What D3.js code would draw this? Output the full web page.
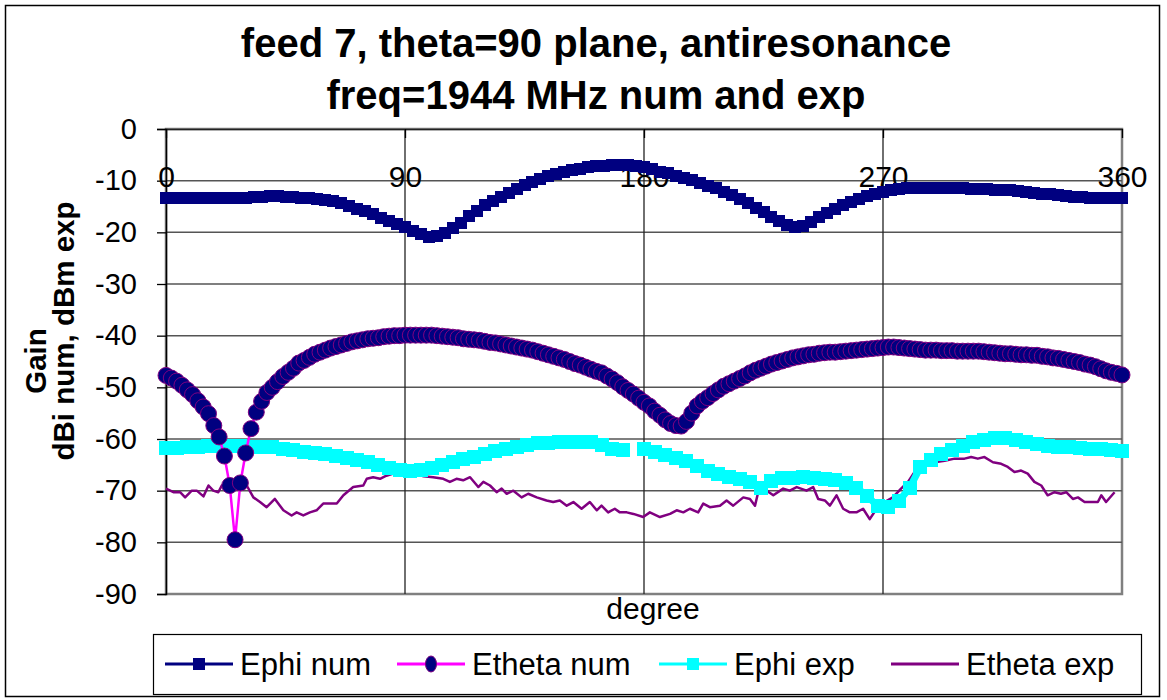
<!DOCTYPE html>
<html>
<head>
<meta charset="utf-8">
<script src="https://cdn.jsdelivr.net/npm/d3@7"></script>
<style>
  html, body { margin: 0; padding: 0; background: #fff; }
  svg { display: block; font-family: "Liberation Sans", Arial, sans-serif; }
</style>
</head>
<body>
<svg id="chart" width="1167" height="700"></svg>
<script>
// ---------------- data ----------------
const titleLines = ["feed 7, theta=90 plane, antiresonance", "freq=1944 MHz num and exp"];
const xLabel = "degree";
const yLabelLines = ["Gain", "dBi num, dBm exp"];
const xTicks = [0, 90, 180, 270, 360];
const yTicks = [0, -10, -20, -30, -40, -50, -60, -70, -80, -90];
const seriesNames = ["Ephi num", "Etheta num", "Ephi exp", "Etheta exp"];

// Ephi num, every 3 degrees from 0 to 360
const ephiNumStep = 3;
const ephiNum = [
  -13.3, -13.3, -13.3, -13.3, -13.3, -13.3, -13.3, -13.3, -13.3, -13.3,
  -13.3, -13.2, -13.1, -13.0, -13.0, -13.1, -13.2, -13.3, -13.4, -13.5,
  -13.8, -14.0, -14.4, -14.9, -15.4, -15.9, -16.5, -17.2, -17.8, -18.4,
  -19.0, -19.7, -20.4, -20.9, -20.7, -20.1, -19.2, -18.1, -16.8, -15.8,
  -14.8, -14.0, -13.2, -12.4, -11.6, -10.8, -10.2, -9.6, -9.1, -8.7,
  -8.3, -8.0, -7.7, -7.4, -7.2, -7.1, -7.0, -7.0, -7.0, -7.2,
  -7.4, -7.8, -8.3, -8.6, -9.0, -9.5, -9.9, -10.4, -11.0, -11.5,
  -12.1, -12.8, -13.6, -14.4, -15.2, -16.1, -17.0, -17.9, -18.5, -18.9,
  -18.8, -18.0, -17.1, -16.3, -15.5, -14.8, -14.1, -13.5, -13.0, -12.5,
  -12.2, -11.9, -11.7, -11.5, -11.4, -11.4, -11.4, -11.4, -11.4, -11.5,
  -11.5, -11.6, -11.6, -11.7, -11.8, -11.9, -11.9, -12.0, -12.2, -12.3,
  -12.5, -12.6, -12.8, -13.0, -13.1, -13.2, -13.3, -13.3, -13.3, -13.3,
  -13.3
];

// Etheta num, every 2 degrees from 0 to 360
const ethetaNumStep = 2;
const ethetaNum = [
  -47.7, -48.2, -48.8, -49.6, -50.5, -51.4, -52.6, -53.8, -55.1, -57.4,
  -59.6, -63.3, -69.0, -79.5, -68.5, -62.7, -58.0, -54.8, -52.7, -51.0,
  -50.0, -48.9, -47.9, -47.1, -46.3, -45.3, -44.8, -44.2, -43.6, -43.2,
  -42.8, -42.4, -42.1, -41.8, -41.5, -41.2, -41.0, -40.8, -40.6, -40.5,
  -40.4, -40.2, -40.1, -40.0, -40.0, -39.9, -39.9, -39.9, -39.9, -39.9,
  -39.9, -40.0, -40.1, -40.2, -40.3, -40.4, -40.6, -40.7, -40.8, -40.9,
  -41.1, -41.3, -41.4, -41.6, -41.8, -42.0, -42.2, -42.4, -42.6, -42.8,
  -43.1, -43.4, -43.7, -44.0, -44.3, -44.6, -45.0, -45.4, -45.7, -46.1,
  -46.5, -46.9, -47.2, -47.8, -48.4, -49.1, -49.9, -50.6, -51.3, -52.1,
  -52.9, -53.6, -54.6, -55.4, -56.3, -57.0, -57.4, -57.5, -56.6, -55.0,
  -53.6, -52.7, -52.0, -51.2, -50.5, -49.8, -49.3, -48.8, -48.3, -47.8,
  -47.2, -46.7, -46.3, -45.9, -45.5, -45.2, -44.9, -44.6, -44.3, -44.1,
  -43.9, -43.7, -43.6, -43.4, -43.3, -43.2, -43.2, -43.1, -43.0, -42.9,
  -42.8, -42.7, -42.6, -42.5, -42.4, -42.3, -42.2, -42.2, -42.3, -42.4,
  -42.5, -42.6, -42.7, -42.8, -42.8, -42.8, -42.9, -42.9, -42.9, -43.0,
  -43.0, -43.0, -43.0, -43.0, -43.1, -43.2, -43.3, -43.4, -43.5, -43.5,
  -43.6, -43.7, -43.7, -43.8, -43.8, -44.0, -44.1, -44.3, -44.4, -44.6,
  -44.8, -45.0, -45.2, -45.5, -45.7, -46.0, -46.4, -46.8, -47.1, -47.3,
  -47.6
];

// Ephi exp, every 4 degrees from 0 to 360 (null = missing sample)
const ephiExpStep = 4;
const ephiExp = [
  -61.7, -61.7, -61.6, -61.5, -61.4, -61.4, -61.3, -61.4, -61.5, -61.5,
  -61.6, -61.9, -62.2, -62.5, -62.7, -63.0, -63.3, -63.6, -64.0, -64.5,
  -65.1, -65.6, -66.0, -66.2, -66.0, -65.6, -65.1, -64.5, -63.9, -63.4,
  -62.9, -62.4, -62.0, -61.5, -61.1, -60.8, -60.7, -60.6, -60.6, -60.5,
  -60.6, -61.2, -61.9, -62.2, null, -62.0, -62.6, -63.1, -63.6, -64.3,
  -65.2, -66.1, -66.7, -67.3, -67.8, -68.4, -69.5, -68.2, -67.6, -67.5,
  -67.4, -67.5, -67.7, -68.0, -68.5, -69.4, -71.0, -73.0, -73.2, -72.0,
  -69.5, -65.5, -64.0, -63.0, -62.1, -61.4, -60.6, -60.2, -59.9, -59.8,
  -60.1, -60.6, -60.9, -61.3, -61.5, -61.6, -61.7, -61.9, -62.0, -62.1,
  -62.3
];

// Etheta exp, measured angles and values
const ethetaExpDeg = [
  0, 2.8, 5.3, 7.2, 9.7, 11.6, 14.1, 16, 17.8, 19.7, 21, 24, 27.9, 30.4, 32.9, 35.4, 37.9, 41,
  44.2, 47.3, 49.2, 51.7, 54.2, 56.7, 59.2, 64.3, 66.8, 70.5, 74.3, 75.6, 78, 80.6, 83, 85.6,
  88.1, 91, 94, 97, 100.6, 104.4, 106.9, 109.4, 111.9, 114.5, 117.6, 119.5, 122, 124.5, 126.4,
  128.3, 130.8, 133.9, 136.4, 139.6, 143.3, 145.8, 148.3, 150.9, 153.4, 156.5, 159.6, 162.2,
  164, 166.5, 169, 170.9, 173.5, 176, 179.7, 182.2, 186, 189.8, 192.3, 194.8, 197.3, 200.4,
  202.3, 204.8, 208.6, 211.1, 213.6, 217.4, 219.9, 221.8, 223, 226.2, 228.7, 232.4, 234.9,
  237.5, 241.2, 243.7, 245.6, 248.1, 250, 252.5, 255, 257.5, 260, 262.5, 265, 267.6, 270.6,
  273.7, 276.8, 279.4, 281.9, 285.6, 289.4, 293.2, 297, 300.7, 303.2, 305.7, 308.2, 311.4,
  314.5, 317, 319.5, 322, 324.5, 327, 329.6, 332, 334.6, 337, 339, 341.5, 343.4, 345.9,
  350.9, 352.2, 354, 357.2
];
const ethetaExp = [
  -69.6, -70.3, -70.3, -71.3, -70.0, -70.0, -71.1, -69.0, -70.0, -70.3, -69.0, -69.5, -69.6, -69.0, -71.3, -72.2, -73.2, -71.6,
  -73.8, -74.8, -74.2, -74.8, -74.2, -73.8, -72.5, -72.5, -70.9, -69.3, -69.0, -67.7, -67.4, -67.7, -67.1, -66.7,
  -67.1, -67.0, -66.8, -67.2, -67.4, -67.7, -68.3, -67.7, -68.0, -67.4, -69.3, -68.3, -69.0, -70.3, -69.6,
  -70.6, -70.0, -71.3, -70.6, -71.3, -71.9, -72.2, -71.9, -72.9, -72.2, -73.5, -72.2, -73.8,
  -72.9, -74.2, -73.5, -74.2, -74.2, -74.5, -75.1, -74.2, -75.1, -74.5, -73.8, -74.2, -73.5, -74.2,
  -72.5, -73.2, -72.9, -71.9, -72.9, -71.3, -71.6, -72.9, -70.3, -70.0, -70.9, -69.6, -70.0,
  -69.3, -70.0, -69.3, -71.6, -71.9, -72.9, -70.9, -73.5, -74.2, -74.2, -73.5, -75.5, -73.5, -72.2,
  -71.3, -69.6, -68.3, -66.4, -65.4, -64.5, -64.2, -63.8, -63.8, -63.5, -63.8, -63.5, -64.5,
  -64.8, -65.4, -66.4, -66.1, -66.7, -68.3, -69.0, -70.9, -70.3, -70.6, -70.3, -71.6, -71.3, -72.2,
  -72.2, -70.9, -72.2, -70.3
];

// ---------------- chart ----------------
const svg = d3.select("#chart");
const plot = { left: 166, right: 1122, top: 129, bottom: 594 };

const x = d3.scaleLinear().domain([0, 360]).range([plot.left, plot.right]);
const y = d3.scaleLinear().domain([-90, 0]).range([plot.bottom, plot.top]);

const colors = {
  ephiNum: "#000080",
  ethetaNumLine: "#FF00FF",
  ethetaNumFill: "#000080",
  ethetaNumStroke: "#800080",
  ephiExp: "#00FFFF",
  ethetaExp: "#800080"
};
const fmt = d => String(d);

// outer chart border
svg.append("rect").attr("x", 5.5).attr("y", 5.5).attr("width", 1154).attr("height", 691)
  .attr("fill", "#fff").attr("stroke", "#000").attr("stroke-width", 1.5);

// titles
svg.append("g").selectAll("text").data(titleLines).join("text")
  .attr("x", 596).attr("y", (d, i) => 57 + i * 52)
  .attr("text-anchor", "middle").attr("font-weight", "bold").attr("font-size", 40)
  .text(d => d);

// plot area background & border
svg.append("rect").attr("x", plot.left).attr("y", plot.top)
  .attr("width", plot.right - plot.left).attr("height", plot.bottom - plot.top)
  .attr("fill", "#fff").attr("stroke", "#808080").attr("stroke-width", 2.5);

// horizontal gridlines
svg.append("g").selectAll("line").data(yTicks.filter(v => v !== 0 && v !== -90)).join("line")
  .attr("x1", plot.left).attr("x2", plot.right)
  .attr("y1", d => y(d)).attr("y2", d => y(d))
  .attr("stroke", "#555").attr("stroke-width", 1.5);

// vertical gridlines
svg.append("g").selectAll("line").data(xTicks.filter(v => v !== 0 && v !== 360)).join("line")
  .attr("x1", d => x(d)).attr("x2", d => x(d))
  .attr("y1", plot.top).attr("y2", plot.bottom)
  .attr("stroke", "#222").attr("stroke-width", 1.3);

// Y axis
const yAxis = svg.append("g").attr("transform", `translate(${plot.left},0)`)
  .call(d3.axisLeft(y).tickValues(yTicks).tickSize(9).tickPadding(20).tickFormat(fmt));
yAxis.select(".domain").attr("stroke", "#000").attr("stroke-width", 1.5);
yAxis.selectAll(".tick line").attr("stroke", "#000").attr("stroke-width", 1.3);
yAxis.selectAll("text").attr("font-size", 29).attr("fill", "#000")
  .attr("font-family", "Liberation Sans, Arial, sans-serif");

// X axis at top (value 0), labels drawn below
const xAxis = svg.append("g").attr("transform", `translate(0,${plot.top})`)
  .call(d3.axisBottom(x).tickValues(xTicks).tickSizeInner(9).tickSizeOuter(0).tickPadding(28).tickFormat(fmt));
xAxis.select(".domain").attr("stroke", "#222").attr("stroke-width", 1.5);
xAxis.selectAll(".tick line").attr("stroke", "#000").attr("stroke-width", 1.3);
xAxis.selectAll("text").attr("font-size", 30).attr("fill", "#000")
  .attr("font-family", "Liberation Sans, Arial, sans-serif");

// axis titles
svg.append("text").attr("x", 653).attr("y", 619).attr("text-anchor", "middle")
  .attr("font-size", 30).text(xLabel);

svg.append("g").selectAll("text").data(yLabelLines).join("text")
  .attr("transform", (d, i) => `translate(${46 + i * 28},${i === 0 ? 361 : 331}) rotate(-90)`)
  .attr("text-anchor", "middle").attr("font-weight", "bold").attr("font-size", 29.5)
  .text(d => d);

// build point sets
const ephiNumPts = ephiNum.map((v, i) => ({ d: i * ephiNumStep, v }));
const ethetaNumPts = ethetaNum.map((v, i) => ({ d: i * ethetaNumStep, v }));
const ephiExpPts = ephiExp.map((v, i) => ({ d: i * ephiExpStep, v }));
const ethetaExpPts = ethetaExp.map((v, i) => ({ d: ethetaExpDeg[i], v }));

const line = d3.line().defined(p => p.v !== null).x(p => x(p.d)).y(p => y(p.v));

const gData = svg.append("g");

// Etheta exp (thin purple line)
gData.append("path").datum(ethetaExpPts).attr("d", line)
  .attr("fill", "none").attr("stroke", colors.ethetaExp).attr("stroke-width", 2.5)
  .attr("stroke-linejoin", "round");

// Ephi exp (cyan squares)
gData.append("path").datum(ephiExpPts).attr("d", line)
  .attr("fill", "none").attr("stroke", colors.ephiExp).attr("stroke-width", 7);
const sqE = 14;
gData.append("g").selectAll("rect").data(ephiExpPts.filter(p => p.v !== null)).join("rect")
  .attr("x", p => Math.round(x(p.d) - sqE / 2)).attr("y", p => Math.round(y(p.v) - sqE / 2))
  .attr("width", sqE).attr("height", sqE).attr("fill", colors.ephiExp);

// Ephi num (navy squares)
gData.append("path").datum(ephiNumPts).attr("d", line)
  .attr("fill", "none").attr("stroke", colors.ephiNum).attr("stroke-width", 6);
const sqN = 12;
gData.append("g").selectAll("rect").data(ephiNumPts).join("rect")
  .attr("x", p => Math.round(x(p.d) - sqN / 2)).attr("y", p => Math.round(y(p.v) - sqN / 2))
  .attr("width", sqN).attr("height", sqN).attr("fill", colors.ephiNum);

// Etheta num (magenta line, navy circles)
gData.append("path").datum(ethetaNumPts).attr("d", line)
  .attr("fill", "none").attr("stroke", colors.ethetaNumLine).attr("stroke-width", 2.5);
gData.append("g").selectAll("circle").data(ethetaNumPts).join("circle")
  .attr("cx", p => x(p.d)).attr("cy", p => y(p.v)).attr("r", 8)
  .attr("fill", colors.ethetaNumFill).attr("stroke", colors.ethetaNumStroke).attr("stroke-width", 1);

// legend
const lg = svg.append("g");
lg.append("rect").attr("x", 153.5).attr("y", 634.5).attr("width", 988).attr("height", 60)
  .attr("fill", "#fff").attr("stroke", "#000").attr("stroke-width", 1.2);
const legendX = [165, 397, 659, 891];
const legendCY = 664;
seriesNames.forEach((name, i) => {
  const x0 = legendX[i], x1 = x0 + 68, cx = (x0 + x1) / 2;
  const stroke = [colors.ephiNum, colors.ethetaNumLine, colors.ephiExp, colors.ethetaExp][i];
  lg.append("line").attr("x1", x0).attr("x2", x1).attr("y1", legendCY).attr("y2", legendCY)
    .attr("stroke", stroke).attr("stroke-width", 3);
  if (i === 0) lg.append("rect").attr("x", cx - 6).attr("y", legendCY - 6).attr("width", 12).attr("height", 12).attr("fill", colors.ephiNum);
  if (i === 1) lg.append("ellipse").attr("cx", cx).attr("cy", legendCY).attr("rx", 5.5).attr("ry", 8)
    .attr("fill", colors.ethetaNumFill).attr("stroke", colors.ethetaNumStroke);
  if (i === 2) lg.append("rect").attr("x", cx - 6).attr("y", legendCY - 6).attr("width", 12).attr("height", 12).attr("fill", colors.ephiExp);
  lg.append("text").attr("x", x1 + 7).attr("y", legendCY + 11).attr("font-size", 31).text(name);
});
</script>
</body>
</html>
